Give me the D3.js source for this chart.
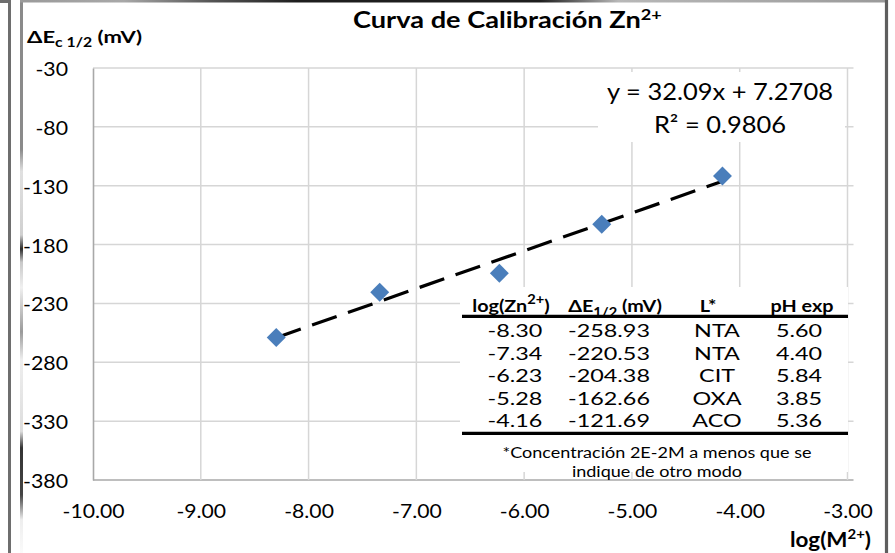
<!DOCTYPE html>
<html>
<head>
<meta charset="utf-8">
<script src="https://cdn.jsdelivr.net/npm/d3@7"></script>
<style>
  html, body { margin: 0; padding: 0; background: #fff; overflow: hidden; }
  svg { display: block; }
</style>
</head>
<body>
<svg id="chart" width="895" height="553"></svg>
<script>
// ---- data ----
const logZn   = [-8.30, -7.34, -6.23, -5.28, -4.16];
const deltaE  = [-258.93, -220.53, -204.38, -162.66, -121.69];
const ligand  = ["NTA", "NTA", "CIT", "OXA", "ACO"];
const phExp   = [5.60, 4.40, 5.84, 3.85, 5.36];
const slope = 32.09, intercept = 7.2708, r2 = 0.9806;
const xTicks = [-10, -9, -8, -7, -6, -5, -4, -3];
const yTicks = [-30, -80, -130, -180, -230, -280, -330, -380];
const footnote = ["*Concentración 2E-2M a menos que se", "indique de otro modo"];

// ---- setup ----
const FONT = "Lato, 'Open Sans', sans-serif";
const GRID = "#d6d6d6", AXIS = "#a8a8a8", BLUE = "#4a7ebb";
const svg = d3.select("#chart");
const defs = svg.append("defs");

const x = d3.scaleLinear().domain([-10, -3]).range([93, 847.5]);
const y = d3.scaleLinear().domain([-380, -30]).range([480, 68]);

// natural width of a string, used to set horizontal stretch of label groups
function stretchFor(str, size, weight, width) {
  const t = svg.append("text").attr("font-family", FONT)
    .attr("font-size", size).attr("font-weight", weight).text(str);
  const s = width / t.node().getComputedTextLength();
  t.remove();
  return s;
}
function fitWidth(sel, width) {
  return width / sel.node().getComputedTextLength();
}

// ---- outer frame ----
const gv = defs.append("linearGradient").attr("id", "edgeV")
  .attr("gradientUnits", "userSpaceOnUse").attr("x1", 0).attr("y1", 0).attr("x2", 0).attr("y2", 553);
[[0, "#8a8a8a"], [0.27, "#8a8a8a"], [0.31, "#e0e0e0"], [0.425, "#d0d0d0"], [0.45, "#2a2a2a"],
 [0.474, "#c8c8c8"], [0.52, "#f0f0f0"], [0.6, "#9a9a9a"], [0.65, "#eeeeee"], [0.78, "#dddddd"],
 [0.81, "#333333"], [0.895, "#444444"], [0.94, "#eeeeee"], [1, "#fafafa"]]
  .forEach(([o, c]) => gv.append("stop").attr("offset", o).attr("stop-color", c));
const gh = defs.append("linearGradient").attr("id", "edgeH")
  .attr("gradientUnits", "userSpaceOnUse").attr("x1", 20).attr("y1", 0).attr("x2", 887).attr("y2", 0);
[[0, "#9a9a9a"], [0.12, "#a8a8a8"], [0.22, "#555555"], [0.32, "#1e1e1e"], [0.6, "#1e1e1e"],
 [0.69, "#b8b8b8"], [1, "#9a9a9a"]]
  .forEach(([o, c]) => gh.append("stop").attr("offset", o).attr("stop-color", c));

const frame = svg.append("g").attr("fill", "none");
frame.append("path").attr("d", "M0,1.5H9.5V553").attr("stroke", "#6e6e6e").attr("stroke-width", 3);
frame.append("line").attr("x1", 21.5).attr("y1", 0).attr("x2", 21.5).attr("y2", 553)
  .attr("stroke", "url(#edgeV)").attr("stroke-width", 3);
frame.append("line").attr("x1", 20).attr("y1", 1.2).attr("x2", 887).attr("y2", 1.2)
  .attr("stroke", "url(#edgeH)").attr("stroke-width", 2.6);
frame.append("line").attr("x1", 886.5).attr("y1", 0).attr("x2", 886.5).attr("y2", 553)
  .attr("stroke", "#5e5e5e").attr("stroke-width", 3.2);

// ---- gridlines ----
const grid = svg.append("g");
grid.selectAll("line.h").data(yTicks).join("line").attr("class", "h")
  .attr("x1", x(-10)).attr("x2", x(-3) + 6)
  .attr("y1", d => y(d)).attr("y2", d => y(d))
  .attr("stroke", d => d === -380 ? AXIS : GRID).attr("stroke-width", 1.5);
grid.selectAll("line.v").data(xTicks.filter(d => d > -10)).join("line").attr("class", "v")
  .attr("x1", d => x(d)).attr("x2", d => x(d))
  .attr("y1", y(-30)).attr("y2", y(-380))
  .attr("stroke", GRID).attr("stroke-width", 1.5);

// ---- axes ----
const tickSize = 19.5;
const sxY = stretchFor("-380", tickSize, 400, 45);
const yAxis = svg.append("g").attr("transform", `translate(${x(-10)},0)`)
  .call(d3.axisLeft(y).tickValues(yTicks).tickSize(0).tickSizeOuter(0).tickFormat(d => String(d)));
yAxis.select(".domain").attr("stroke", AXIS).attr("stroke-width", 1.6);
yAxis.selectAll(".tick text")
  .attr("x", null).attr("dy", null)
  .attr("font-family", FONT).attr("font-size", tickSize).attr("fill", "#000")
  .attr("text-anchor", "end")
  .attr("transform", `translate(-25,7.5) scale(${sxY},1)`);

const sxX = stretchFor("-10.00", tickSize, 400, 62);
const xAxis = svg.append("g").attr("transform", `translate(0,${y(-380)})`)
  .call(d3.axisBottom(x).tickValues(xTicks).tickSize(0).tickSizeOuter(0).tickFormat(d => d.toFixed(2)));
xAxis.select(".domain").remove();
xAxis.selectAll(".tick text")
  .attr("y", null).attr("dy", null)
  .attr("font-family", FONT).attr("font-size", tickSize).attr("fill", "#000")
  .attr("transform", `translate(0,38) scale(${sxX},1)`);

// ---- regression label box ----
svg.append("rect").attr("x", 598).attr("y", 72).attr("width", 247).attr("height", 70).attr("fill", "#fff");

// ---- data table box ----
const tbl = svg.append("g");
tbl.append("rect").attr("x", 460).attr("y", 287).attr("width", 388).attr("height", 185).attr("fill", "#fff");

// ---- trendline ----
const xr = d3.extent(logZn);
svg.append("path")
  .datum(xr.map(v => [v, slope * v + intercept]))
  .attr("d", d3.line().x(d => x(d[0])).y(d => y(d[1])))
  .attr("fill", "none").attr("stroke", "#000").attr("stroke-width", 3.2)
  .attr("stroke-dasharray", "26 12");

// ---- points ----
svg.append("g").selectAll("path").data(d3.zip(logZn, deltaE)).join("path")
  .attr("d", d3.symbol(d3.symbolSquare, 180))
  .attr("transform", d => `translate(${x(d[0])},${y(d[1])}) rotate(45)`)
  .attr("fill", BLUE);

// ---- title ----
const title = svg.append("text").attr("font-family", FONT).attr("font-weight", 700)
  .attr("font-size", 22.5).attr("fill", "#000");
title.append("tspan").text("Curva de Calibración Zn");
title.append("tspan").attr("font-size", 15).attr("dy", -8).text("2+");
title.attr("transform", `translate(353,28.3) scale(${fitWidth(title, 309)},1)`);

// ---- y axis title ----
const yTitle = svg.append("text").attr("font-family", FONT).attr("font-weight", 700)
  .attr("font-size", 17.5).attr("fill", "#000");
yTitle.append("tspan").text("ΔE");
yTitle.append("tspan").attr("font-size", 12.5).attr("dy", 3.5).text("c 1/2");
yTitle.append("tspan").attr("dy", -3.5).text(" (mV)");
yTitle.attr("transform", `translate(27,43) scale(${fitWidth(yTitle, 115)},1)`);

// ---- x axis title ----
const xTitle = svg.append("text").attr("font-family", FONT).attr("font-weight", 700)
  .attr("font-size", 21).attr("fill", "#000").attr("text-anchor", "end");
xTitle.append("tspan").text("log(M");
xTitle.append("tspan").attr("font-size", 14).attr("dy", -8).text("2+");
xTitle.append("tspan").attr("dy", 8).text(")");
xTitle.attr("transform", `translate(871,547) scale(${fitWidth(xTitle, 81)},1)`);

// ---- regression equation ----
const eq1 = svg.append("text").attr("font-family", FONT).attr("font-size", 23)
  .attr("fill", "#000").attr("text-anchor", "middle")
  .text(`y = ${slope}x + ${intercept}`);
const sxEq = fitWidth(eq1, 226);
eq1.attr("transform", `translate(720,100) scale(${sxEq},1)`);
svg.append("text").attr("font-family", FONT).attr("font-size", 23)
  .attr("fill", "#000").attr("text-anchor", "middle")
  .attr("transform", `translate(720,132.7) scale(${sxEq},1)`)
  .text(`R² = ${r2}`);

// ---- table ----
const headX = [511, 615, 708, 802];
const colX = [515, 609, 717, 799];
const rowY0 = 337, rowStep = 22.5;
const headSize = 17.5, rowSize = 17;
const sxHead = stretchFor("pH exp", headSize, 700, 63);
const sxRow = stretchFor("-258.93", rowSize, 400, 82);

const headers = [
  [["log(Zn", 0, null], ["2+", -8, 13], [")", 8, null]],
  [["ΔE", 0, null], ["1/2", 5, 13], [" (mV)", -5, null]],
  [["L*", 0, null]],
  [["pH exp", 0, null]]
];
headers.forEach((parts, j) => {
  const t = tbl.append("text").attr("font-family", FONT).attr("font-weight", 700)
    .attr("font-size", headSize).attr("fill", "#000").attr("text-anchor", "middle")
    .attr("transform", `translate(${headX[j]},312) scale(${sxHead},1)`);
  parts.forEach(([s, dy, fs]) => {
    const ts = t.append("tspan").text(s);
    if (dy) ts.attr("dy", dy);
    if (fs) ts.attr("font-size", fs);
  });
});

tbl.append("line").attr("x1", 462).attr("x2", 848).attr("y1", 316.3).attr("y2", 316.3)
  .attr("stroke", "#000").attr("stroke-width", 3.2);
tbl.append("line").attr("x1", 462).attr("x2", 848).attr("y1", 433.3).attr("y2", 433.3)
  .attr("stroke", "#000").attr("stroke-width", 3.2);

const rows = logZn.map((v, i) => [v.toFixed(2), deltaE[i].toFixed(2), ligand[i], phExp[i].toFixed(2)]);
rows.forEach((r, i) => {
  tbl.selectAll(null).data(r).join("text")
    .attr("font-family", FONT).attr("font-size", rowSize).attr("fill", "#000")
    .attr("text-anchor", "middle")
    .attr("transform", (d, j) => `translate(${colX[j]},${rowY0 + i * rowStep}) scale(${sxRow},1)`)
    .text(d => d);
});

const sxNote = stretchFor(footnote[0], 15, 400, 309);
tbl.selectAll(null).data(footnote).join("text")
  .attr("font-family", FONT).attr("font-size", 15).attr("fill", "#000")
  .attr("text-anchor", "middle")
  .attr("transform", (d, i) => `translate(657,${458.3 + i * 18.3}) scale(${sxNote},1)`)
  .text(d => d);
</script>
</body>
</html>
